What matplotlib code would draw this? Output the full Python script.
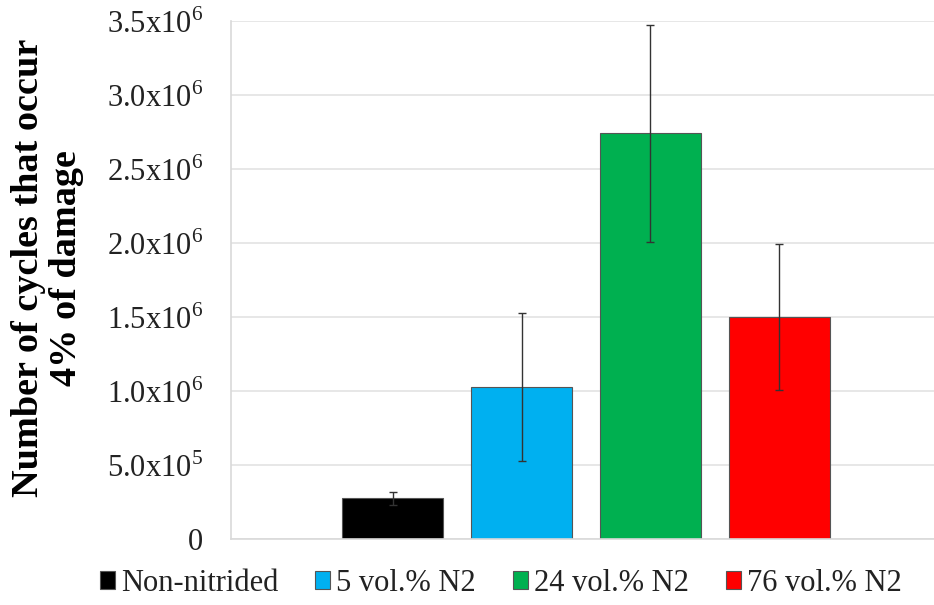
import numpy as np
import matplotlib.pyplot as plt
from matplotlib.ticker import FixedLocator

# data
series = ["Non-nitrided", "5 vol.% N2", "24 vol.% N2", "76 vol.% N2"]
cycles = [0.275e6, 1.03e6, 2.74e6, 1.50e6]
errors = [0.045e6, 0.50e6, 0.735e6, 0.49e6]
colors = ["#000000", "#00B0F0", "#00B050", "#FF0000"]
yticks = [0, 0.5e6, 1.0e6, 1.5e6, 2.0e6, 2.5e6, 3.0e6, 3.5e6]
yticklabels = ["0", r"5.0x10$^{5}$", r"1.0x10$^{6}$", r"1.5x10$^{6}$",
               r"2.0x10$^{6}$", r"2.5x10$^{6}$", r"3.0x10$^{6}$", r"3.5x10$^{6}$"]

plt.rcParams["font.family"] = ["Liberation Serif", "DejaVu Serif"]
plt.rcParams["mathtext.fontset"] = "custom"
plt.rcParams["mathtext.rm"] = "Liberation Serif"

fig = plt.figure(figsize=(9.34, 6.05), dpi=100)
ax = fig.add_axes([231 / 934, 1 - 539 / 605, (934 - 231) / 934, (539 - 21) / 605])

x = np.arange(len(series))
for i in range(len(series)):
    ax.bar(x[i], cycles[i], width=0.785, color=colors[i], edgecolor="#555555",
           linewidth=0.8, label=series[i], zorder=2)
    ax.errorbar(x[i], cycles[i], yerr=errors[i], fmt="none", ecolor="#333333",
                elinewidth=1.0, capsize=3, capthick=1.0, zorder=3)

ax.set_xlim(-1.255, 4.2)
ax.set_ylim(0, 3.5e6)
ax.yaxis.set_major_locator(FixedLocator(yticks))
ax.set_yticklabels(yticklabels, fontsize=22, color="#222222")
ax.set_xticks([])
ax.tick_params(axis="y", length=0, pad=20)
ax.grid(axis="y", color="#e3e3e3", linewidth=1.2, zorder=0)
ax.set_axisbelow(True)
for s in ["top", "right"]:
    ax.spines[s].set_visible(False)
ax.spines["left"].set_color("#d9d9d9")
ax.spines["bottom"].set_color("#d9d9d9")
ax.spines["left"].set_linewidth(1.2)
ax.spines["bottom"].set_linewidth(1.2)

fig.text(0.051, 0.557, "Number of cycles that occur\n4% of damage", rotation=90,
         ha="center", va="center", fontsize=27.5, fontweight="bold",
         linespacing=1.1, multialignment="center")

fig.legend(loc="center", bbox_to_anchor=(0.536, 0.036), ncol=4, frameon=False,
           fontsize=22, handlelength=0.5, handleheight=0.5, handletextpad=0.2,
           columnspacing=1.2, labelcolor="#222222")

fig.savefig("out.png", dpi=100)
